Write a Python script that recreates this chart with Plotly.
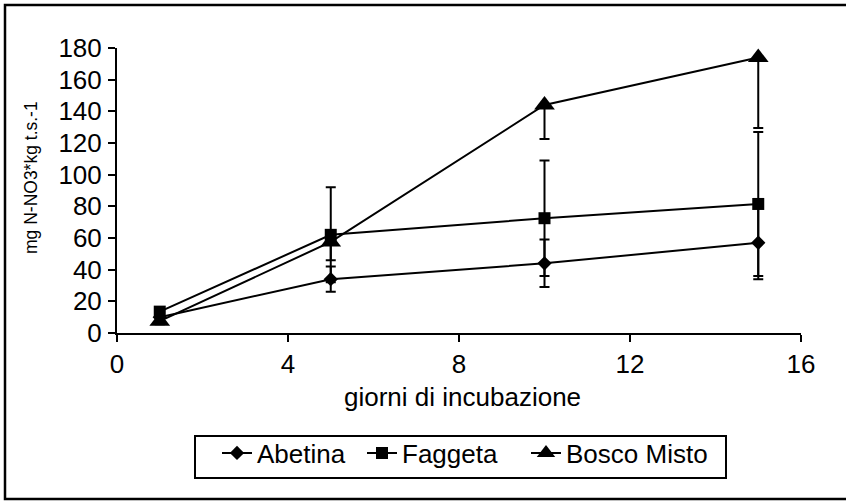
import plotly.graph_objects as go

# Incubation days
giorni = [1, 5, 10, 15]

# Mean N-NO3 values (mg/kg t.s.) and error bar half-widths
abetina = [10, 34, 44, 57]
abetina_err = [2, 8, 15, 23]

faggeta = [13.5, 62, 72.5, 81.5]
faggeta_err = [2, 30, 36.5, 45.5]

bosco_misto = [7.5, 57.5, 144, 174]
bosco_misto_err_minus = [2, 11.5, 21.5, 44.5]
bosco_misto_err_plus = [0, 0, 0, 0]

x_ticks = [0, 4, 8, 12, 16]
y_ticks = [0, 20, 40, 60, 80, 100, 120, 140, 160, 180]

FONT = "Liberation Sans, Arial, sans-serif"
BLACK = "#000000"
TXT = 26

fig = go.Figure()

line_style = dict(color=BLACK, width=2)

fig.add_trace(go.Scatter(
    x=giorni, y=abetina, name="Abetina", mode="lines+markers",
    line=line_style,
    marker=dict(symbol="diamond", size=11, color=BLACK),
    error_y=dict(type="data", array=abetina_err, visible=True,
                 color=BLACK, thickness=2, width=5),
    legendwidth=100,
))
fig.add_trace(go.Scatter(
    x=giorni, y=faggeta, name="Faggeta", mode="lines+markers",
    line=line_style,
    marker=dict(symbol="square", size=12, color=BLACK),
    error_y=dict(type="data", array=faggeta_err, visible=True,
                 color=BLACK, thickness=2, width=5),
    legendwidth=119,
))
fig.add_trace(go.Scatter(
    x=giorni, y=bosco_misto, name="Bosco Misto", mode="lines+markers",
    line=line_style,
    marker=dict(symbol="triangle-up", size=18, color=BLACK),
    error_y=dict(type="data", symmetric=False,
                 array=bosco_misto_err_plus,
                 arrayminus=bosco_misto_err_minus, visible=True,
                 color=BLACK, thickness=2, width=5),
    cliponaxis=False,
    legendwidth=150,
))

# Plot area: x 0..16 spans px 117..801, y 0..180 spans px 333..48
L, R, T, B = 117, 45, 48, 168
W, H = 846, 501
pw, ph = W - L - R, H - T - B


def px_x(p):
    return (p - L) / pw


def px_y(p):
    return (H - B - p) / ph


fig.update_layout(
    width=W, height=H,
    margin=dict(l=L, r=R, t=T, b=B, pad=0),
    paper_bgcolor="white", plot_bgcolor="white",
    font=dict(family=FONT, color=BLACK, size=TXT),
    showlegend=True,
    legend=dict(
        orientation="h",
        x=px_x(217), xanchor="left",
        y=px_y(453), yanchor="middle",
        borderwidth=0,
        bgcolor="rgba(0,0,0,0)",
        font=dict(family=FONT, size=TXT, color=BLACK),
        itemwidth=30,
    ),
    xaxis=dict(
        range=[0, 16], tickvals=x_ticks, showgrid=False, zeroline=False,
        showline=True, linecolor=BLACK, linewidth=2,
        ticks="outside", ticklen=7, tickwidth=2, tickcolor=BLACK,
        tickfont=dict(family=FONT, size=TXT, color=BLACK),
        ticklabelstandoff=0,
        fixedrange=True,
    ),
    yaxis=dict(
        range=[0, 180], tickvals=y_ticks, showgrid=False, zeroline=False,
        showline=True, linecolor=BLACK, linewidth=2,
        ticks="outside", ticklen=7, tickwidth=2, tickcolor=BLACK,
        tickfont=dict(family=FONT, size=TXT, color=BLACK),
        ticklabelstandoff=1,
        fixedrange=True,
    ),
    # companion axes carrying the inner half of the cross tick marks
    xaxis2=dict(
        overlaying="x", anchor="y", side="bottom", range=[0, 16],
        tickvals=x_ticks, showticklabels=False, showgrid=False,
        zeroline=False, showline=False,
        ticks="inside", ticklen=7, tickwidth=2, tickcolor=BLACK,
    ),
    yaxis2=dict(
        overlaying="y", anchor="x", side="left", range=[0, 180],
        tickvals=y_ticks, showticklabels=False, showgrid=False,
        zeroline=False, showline=False,
        ticks="inside", ticklen=7, tickwidth=2, tickcolor=BLACK,
    ),
    annotations=[
        dict(
            text="mg N-NO3*kg t.s.-1", textangle=-90,
            xref="paper", yref="paper", x=px_x(31), y=px_y(178),
            xanchor="center", yanchor="middle", showarrow=False,
            font=dict(family=FONT, size=17.5, color=BLACK),
        ),
        dict(
            text="giorni di incubazione",
            xref="paper", yref="paper", x=px_x(462), y=px_y(397),
            xanchor="center", yanchor="middle", showarrow=False,
            font=dict(family=FONT, size=TXT, color=BLACK),
        ),
    ],
    shapes=[
        # outer frame
        dict(
            type="rect", xref="paper", yref="paper",
            x0=px_x(5), x1=px_x(850), y0=px_y(499), y1=px_y(5),
            line=dict(color=BLACK, width=2.5), fillcolor="rgba(0,0,0,0)",
            layer="below",
        ),
        # legend box
        dict(
            type="rect", xref="paper", yref="paper",
            x0=px_x(195), x1=px_x(726), y0=px_y(478), y1=px_y(436),
            line=dict(color=BLACK, width=2), fillcolor="white",
            layer="below",
        ),
    ],
)

fig.write_html("out.html")
